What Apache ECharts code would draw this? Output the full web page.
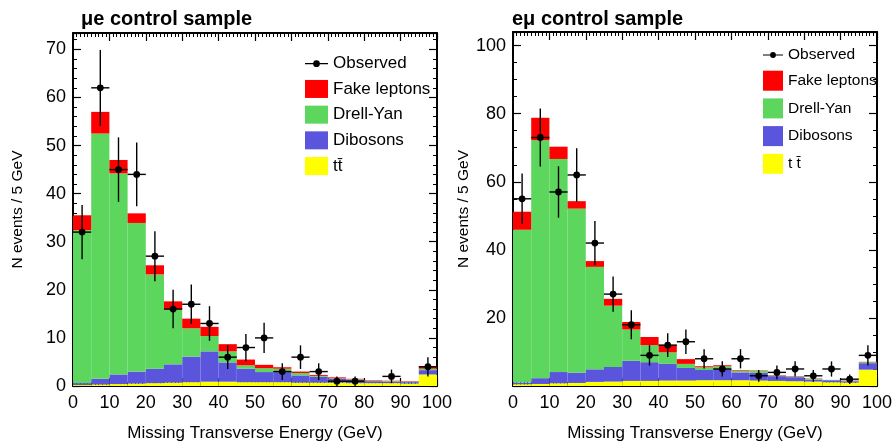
<!DOCTYPE html>
<html>
<head>
<meta charset="utf-8">
<script src="https://cdn.jsdelivr.net/npm/echarts@6/dist/echarts.min.js"></script>
<style>
  html, body { margin: 0; background: #fff; }
  #main { width: 896px; height: 447px; }
</style>
</head>
<body>
<div id="main"></div>
<script>
// bin lower edges (5 GeV bins, last bin is overflow)
const binLow = [0, 5, 10, 15, 20, 25, 30, 35, 40, 45, 50, 55, 60, 65, 70, 75, 80, 85, 90, 95]
const xTicks = [0, 10, 20, 30, 40, 50, 60, 70, 80, 90, 100]

// mu-e control sample
const meTT = [0.2, 0.3, 0.4, 0.5, 0.6, 0.7, 0.8, 0.9, 0.9, 0.8, 0.8, 0.8, 0.7, 0.7, 0.7, 0.6, 0.6, 0.6, 0.5, 2.4]
const meDiboson = [0.4, 1.2, 2.0, 2.5, 3.0, 3.8, 5.3, 6.3, 4.0, 2.8, 2.1, 2.1, 1.5, 1.2, 0.8, 0.7, 0.4, 0.3, 0.3, 0.9]
const meDrellYan = [31.8, 51.0, 41.8, 30.9, 19.6, 11.4, 5.9, 3.2, 2.3, 0.7, 0.8, 0.7, 0.5, 0.2, 0.1, 0.1, 0.1, 0.1, 0.1, 0.3]
const meFake = [3.1, 4.5, 2.8, 2.0, 1.9, 1.7, 2.0, 1.9, 1.5, 1.2, 0.7, 0.3, 0.3, 0.2, 0.2, 0.1, 0.1, 0.1, 0.1, 0.4]
const meObs = [32, 62, 45, 44, 27, 16, 17, 13, 6, 8, 10, 3, 6, 3, 1, 1, null, 2, null, 4]

// e-mu control sample
const emTT = [0.5, 0.6, 0.8, 0.9, 1.2, 1.3, 1.5, 1.5, 1.6, 1.6, 1.7, 1.7, 1.7, 1.6, 1.5, 1.4, 1.3, 1.1, 1.0, 4.8]
const emDiboson = [0.5, 1.7, 3.3, 3.0, 3.7, 4.3, 5.9, 5.5, 4.9, 3.7, 3.0, 3.3, 2.3, 2.3, 1.4, 1.2, 0.6, 0.6, 0.4, 1.9]
const emDrellYan = [44.9, 69.9, 62.6, 48.2, 30.1, 18.0, 9.2, 5.0, 3.4, 1.2, 0.8, 0.8, 0.4, 0.6, 0.2, 0.2, 0.2, 0.1, 0.1, 0.3]
const emFake = [5.3, 6.6, 3.6, 2.2, 1.7, 2.0, 2.2, 2.4, 2.2, 1.4, 0.3, 0.3, 0.2, 0.1, 0.1, 0.1, 0.1, 0.0, 0.1, 0.1]
const emObs = [55, 73, 57, 62, 42, 27, 18, 9, 12, 13, 8, 5, 8, 3, 4, 5, 3, 5, 2, 9]

const BIN = 5
const FONT = 'Liberation Sans'
const colors = { fake: '#ff0000', dy: '#5cd65c', dib: '#5a55dc', tt: '#ffff00' }
const obsIcon = 'path://M0,0 L0.01,0 L0,0.01 Z M24,18 L23.99,18 L24,17.99 Z M0,8.4 L24,8.4 L24,9.6 L0,9.6 Z M15.5,9 A3.5,3.5 0 1 1 8.5,9 A3.5,3.5 0 1 1 15.5,9 Z'

// stack the components bottom-up: tt, dibosons, drell-yan, fakes
function stack(layers) {
  const base = binLow.map(() => 0)
  return layers.map(vals => vals.map((v, i) => {
    const lo = base[i]
    base[i] += v
    return [binLow[i], binLow[i] + BIN, lo, base[i]]
  }))
}

function barItem(params, api) {
  const p0 = api.coord([api.value(0), api.value(3)])
  const p1 = api.coord([api.value(1), api.value(2)])
  return {
    type: 'rect',
    shape: { x: p0[0], y: p0[1], width: p1[0] - p0[0], height: p1[1] - p0[1] },
    style: { fill: api.visual('color') },
  }
}

function obsItem(params, api) {
  const x = api.value(0)
  const y = api.value(1)
  const e = Math.sqrt(y)
  const c = api.coord([x, y])
  const l = api.coord([x - BIN / 2, y])
  const r = api.coord([x + BIN / 2, y])
  const t = api.coord([x, y + e])
  const b = api.coord([x, y - e])
  const st = { stroke: '#000', lineWidth: 1.4 }
  return {
    type: 'group',
    children: [
      { type: 'line', shape: { x1: l[0], y1: c[1], x2: r[0], y2: c[1] }, style: st },
      { type: 'line', shape: { x1: c[0], y1: t[1], x2: c[0], y2: b[1] }, style: st },
      { type: 'circle', shape: { cx: c[0], cy: c[1], r: 3.4 }, style: { fill: '#000' } },
    ],
  }
}

function panelSeries(idx, tt, dib, dy, fake, obs, ttName) {
  const [sTT, sDib, sDY, sFake] = stack([tt, dib, dy, fake])
  const bar = (name, data, color) => ({
    name, type: 'custom', renderItem: barItem, data,
    xAxisIndex: idx * 2, yAxisIndex: idx * 2,
    encode: { x: [0, 1], y: [2, 3] },
    itemStyle: { color }, silent: true,
  })
  return [
    bar(ttName, sTT, colors.tt),
    bar('Dibosons', sDib, colors.dib),
    bar('Drell-Yan', sDY, colors.dy),
    bar('Fake leptons', sFake, colors.fake),
    {
      name: 'Observed', type: 'custom', renderItem: obsItem,
      data: obs.map((v, i) => (v == null ? null : [binLow[i] + BIN / 2, v])).filter(d => d),
      xAxisIndex: idx * 2, yAxisIndex: idx * 2,
      encode: { x: 0, y: 1 },
      itemStyle: { color: '#000' }, silent: true, z: 5,
    },
  ]
}

const axisLine = { show: true, onZero: false, lineStyle: { color: '#000', width: 2 } }
const labelStyle = { color: '#000', fontFamily: FONT, fontSize: 18 }

function xAxes(grid) {
  return [
    {
      gridIndex: grid, type: 'value', position: 'bottom', min: 0, max: 100, interval: 10,
      axisLine, splitLine: { show: false },
      axisTick: { inside: true, length: 8, lineStyle: { color: '#000', width: 1.2 } },
      minorTick: { show: true, splitNumber: 10, length: 4, lineStyle: { color: '#000', width: 1 } },
      axisLabel: { ...labelStyle, margin: 8, formatter: v => (xTicks.includes(v) ? String(v) : '') },
      name: 'Missing Transverse Energy (GeV)', nameLocation: 'middle', nameGap: 39,
      nameTextStyle: { color: '#000', fontFamily: FONT, fontSize: 17 },
    },
    {
      gridIndex: grid, type: 'value', position: 'top', min: 0, max: 100, interval: 10,
      axisLine, splitLine: { show: false },
      axisTick: { inside: true, length: 8, lineStyle: { color: '#000', width: 1.2 } },
      minorTick: { show: true, splitNumber: 10, length: 4, lineStyle: { color: '#000', width: 1 } },
      axisLabel: { show: false },
    },
  ]
}

function yAxes(grid, max, interval, minorSplit, nameGap, showZero) {
  const common = {
    gridIndex: grid, type: 'value', min: 0, max, interval,
    axisLine, splitLine: { show: false },
    axisTick: { inside: true, length: 8, lineStyle: { color: '#000', width: 1.2 } },
    minorTick: { show: true, splitNumber: minorSplit, length: 4, lineStyle: { color: '#000', width: 1 } },
  }
  return [
    {
      ...common, position: 'left',
      axisLabel: {
        ...labelStyle, margin: 7, showMaxLabel: false, showMinLabel: showZero,
        formatter: v => (v % interval === 0 ? String(v) : ''),
      },
      name: 'N events / 5 GeV', nameLocation: 'middle', nameRotate: 90, nameGap,
      nameTextStyle: { color: '#000', fontFamily: FONT, fontSize: 15.5 },
    },
    { ...common, position: 'right', axisLabel: { show: false } },
  ]
}

const legendItems = ttName => [
  { name: 'Observed', icon: obsIcon },
  { name: 'Fake leptons', icon: 'rect' },
  { name: 'Drell-Yan', icon: 'rect' },
  { name: 'Dibosons', icon: 'rect' },
  { name: ttName, icon: 'rect' },
]

const option = {
  animation: false,
  backgroundColor: '#fff',
  title: [
    { text: 'μe control sample', left: 76, top: 4, textStyle: { fontFamily: FONT, fontSize: 20, fontWeight: 'bold', color: '#000' } },
    { text: 'eμ control sample', left: 507, top: 4, textStyle: { fontFamily: FONT, fontSize: 20, fontWeight: 'bold', color: '#000' } },
  ],
  grid: [
    { left: 73, top: 33, width: 364, height: 358 },
    { left: 513, top: 32, width: 364, height: 359 },
  ],
  legend: [
    {
      orient: 'vertical', left: 300, top: 50, itemWidth: 23, itemHeight: 18, itemGap: 7.7,
      textStyle: { color: '#000', fontFamily: FONT, fontSize: 17 }, selectedMode: false,
      data: legendItems('tt\u0304'),
    },
    {
      orient: 'vertical', left: 758, top: 42, itemWidth: 20, itemHeight: 20, itemGap: 7.7,
      textStyle: { color: '#000', fontFamily: FONT, fontSize: 15.5 }, selectedMode: false,
      data: legendItems('t t\u0304'),
    },
  ],
  xAxis: [...xAxes(0), ...xAxes(1)],
  yAxis: [...yAxes(0, 73.4, 10, 5, 47, true), ...yAxes(1, 104, 20, 4, 37, false)],
  series: [
    ...panelSeries(0, meTT, meDiboson, meDrellYan, meFake, meObs, 'tt\u0304'),
    ...panelSeries(1, emTT, emDiboson, emDrellYan, emFake, emObs, 't t\u0304'),
  ],
}

const chart = echarts.init(document.getElementById('main'), null, { renderer: 'canvas' })
chart.setOption(option)
</script>
</body>
</html>
